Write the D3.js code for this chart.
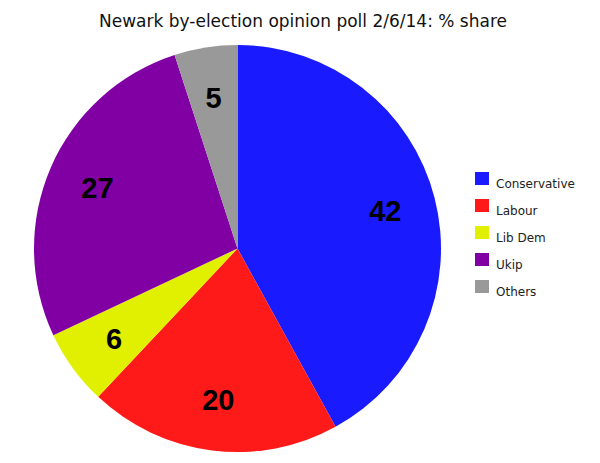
<!DOCTYPE html>
<html>
<head>
<meta charset="utf-8">
<script src="https://cdn.jsdelivr.net/npm/d3@7"></script>
<style>
  body { margin: 0; background: #fff; }
  text { font-family: "Century Gothic", "URW Gothic", "DejaVu Sans", sans-serif; }
</style>
</head>
<body>
<svg id="chart"></svg>
<script>
const parties = ["Conservative", "Labour", "Lib Dem", "Ukip", "Others"];
const shares = [42, 20, 6, 27, 5];
const colours = ["#1a1aff", "#ff1a1a", "#e1ef00", "#8000a3", "#999999"];

const width = 600, height = 463;
const cx = 237.5, cy = 248.5, radius = 203.5;

const svg = d3.select("#chart")
    .attr("width", width)
    .attr("height", height);

svg.append("text")
    .attr("x", 303)
    .attr("y", 27)
    .attr("text-anchor", "middle")
    .style("font-size", "17px")
    .attr("fill", "#111")
    .text("Newark by-election opinion poll 2/6/14: % share");

const data = parties.map((p, i) => ({ party: p, share: shares[i], colour: colours[i] }));

const pie = d3.pie().sort(null).value(d => d.share);
const arc = d3.arc().innerRadius(0).outerRadius(radius);
const labelArc = d3.arc().innerRadius(radius * 0.75).outerRadius(radius * 0.75);

const g = svg.append("g").attr("transform", `translate(${cx},${cy})`);
const arcs = pie(data);

g.selectAll("path")
    .data(arcs)
    .join("path")
    .attr("d", arc)
    .attr("fill", d => d.data.colour);

g.selectAll(".label")
    .data(arcs)
    .join("text")
    .attr("class", "label")
    .attr("transform", d => `translate(${labelArc.centroid(d)})`)
    .attr("text-anchor", "middle")
    .attr("dy", "0.36em")
    .style("font-family", "'Liberation Sans', Arial, sans-serif")
    .style("font-size", "29px")
    .style("font-weight", "bold")
    .attr("fill", "#000")
    .text(d => d.data.share);

const legend = svg.append("g").attr("transform", "translate(475,172)");
const row = legend.selectAll("g")
    .data(data)
    .join("g")
    .attr("transform", (d, i) => `translate(0,${i * 27})`);

row.append("rect")
    .attr("width", 14)
    .attr("height", 13)
    .attr("fill", d => d.colour);

row.append("text")
    .attr("x", 21)
    .attr("y", 16)
    .style("font-size", "12px")
    .attr("fill", "#222")
    .text(d => d.party);
</script>
</body>
</html>
